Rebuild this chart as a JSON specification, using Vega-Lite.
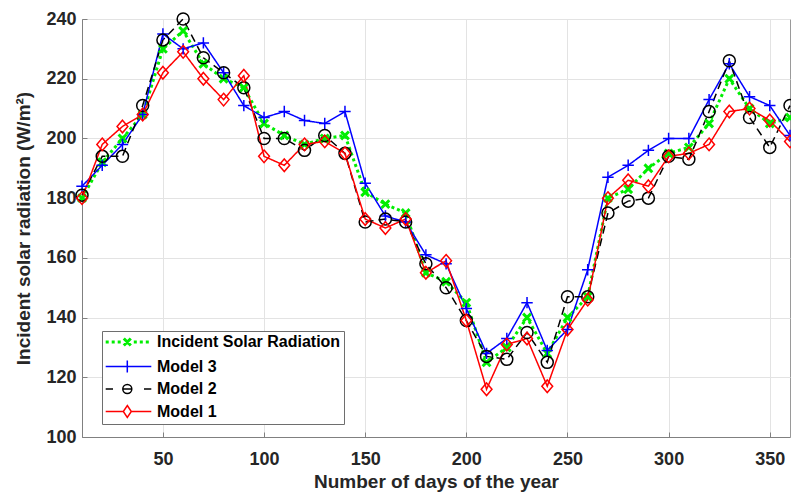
{
  "$schema": "https://vega.github.io/schema/vega-lite/v6.json",
  "width": 708,
  "height": 418,
  "autosize": {"type": "none"},
  "padding": {"left": 82, "top": 19, "right": 1, "bottom": 56},
  "background": "white",
  "config": {
    "view": {"stroke": "#9a9a9a", "strokeWidth": 1},
    "font": "Liberation Sans",
    "axis": {
      "labelFont": "Liberation Sans", "labelFontWeight": "bold", "labelFontSize": 18, "labelColor": "#262626",
      "titleFont": "Liberation Sans", "titleFontWeight": "bold", "titleFontSize": 19, "titleColor": "#262626",
      "gridColor": "#e3e3e3", "gridWidth": 1, "domainColor": "#808080", "tickColor": "#808080", "tickSize": -5
    }
  },
  "data": {"values": [
    {"day":10,"series":"Incident Solar Radiation","value":180},{"day":20,"series":"Incident Solar Radiation","value":192},{"day":30,"series":"Incident Solar Radiation","value":200},{"day":40,"series":"Incident Solar Radiation","value":208},{"day":50,"series":"Incident Solar Radiation","value":230},{"day":60,"series":"Incident Solar Radiation","value":236},{"day":70,"series":"Incident Solar Radiation","value":225},{"day":80,"series":"Incident Solar Radiation","value":220},{"day":90,"series":"Incident Solar Radiation","value":217},{"day":100,"series":"Incident Solar Radiation","value":205},{"day":110,"series":"Incident Solar Radiation","value":201},{"day":120,"series":"Incident Solar Radiation","value":198},{"day":130,"series":"Incident Solar Radiation","value":200},{"day":140,"series":"Incident Solar Radiation","value":201},{"day":150,"series":"Incident Solar Radiation","value":182},{"day":160,"series":"Incident Solar Radiation","value":178},{"day":170,"series":"Incident Solar Radiation","value":175},{"day":180,"series":"Incident Solar Radiation","value":155},{"day":190,"series":"Incident Solar Radiation","value":152},{"day":200,"series":"Incident Solar Radiation","value":145},{"day":210,"series":"Incident Solar Radiation","value":125},{"day":220,"series":"Incident Solar Radiation","value":130},{"day":230,"series":"Incident Solar Radiation","value":140},{"day":240,"series":"Incident Solar Radiation","value":128},{"day":250,"series":"Incident Solar Radiation","value":140},{"day":260,"series":"Incident Solar Radiation","value":147},{"day":270,"series":"Incident Solar Radiation","value":180},{"day":280,"series":"Incident Solar Radiation","value":183},{"day":290,"series":"Incident Solar Radiation","value":190},{"day":300,"series":"Incident Solar Radiation","value":195},{"day":310,"series":"Incident Solar Radiation","value":197},{"day":320,"series":"Incident Solar Radiation","value":205},{"day":330,"series":"Incident Solar Radiation","value":220},{"day":340,"series":"Incident Solar Radiation","value":210},{"day":350,"series":"Incident Solar Radiation","value":205},{"day":360,"series":"Incident Solar Radiation","value":207},
    {"day":10,"series":"Model 3","value":184},{"day":20,"series":"Model 3","value":191},{"day":30,"series":"Model 3","value":198},{"day":40,"series":"Model 3","value":208},{"day":50,"series":"Model 3","value":235},{"day":60,"series":"Model 3","value":230},{"day":70,"series":"Model 3","value":232},{"day":80,"series":"Model 3","value":222},{"day":90,"series":"Model 3","value":211},{"day":100,"series":"Model 3","value":207},{"day":110,"series":"Model 3","value":209},{"day":120,"series":"Model 3","value":206},{"day":130,"series":"Model 3","value":205},{"day":140,"series":"Model 3","value":209},{"day":150,"series":"Model 3","value":185},{"day":160,"series":"Model 3","value":174},{"day":170,"series":"Model 3","value":172},{"day":180,"series":"Model 3","value":161},{"day":190,"series":"Model 3","value":158},{"day":200,"series":"Model 3","value":143},{"day":210,"series":"Model 3","value":128},{"day":220,"series":"Model 3","value":133},{"day":230,"series":"Model 3","value":145},{"day":240,"series":"Model 3","value":129},{"day":250,"series":"Model 3","value":136},{"day":260,"series":"Model 3","value":156},{"day":270,"series":"Model 3","value":187},{"day":280,"series":"Model 3","value":191},{"day":290,"series":"Model 3","value":196},{"day":300,"series":"Model 3","value":200},{"day":310,"series":"Model 3","value":200},{"day":320,"series":"Model 3","value":213},{"day":330,"series":"Model 3","value":225},{"day":340,"series":"Model 3","value":214},{"day":350,"series":"Model 3","value":211},{"day":360,"series":"Model 3","value":201},
    {"day":10,"series":"Model 2","value":181},{"day":20,"series":"Model 2","value":194},{"day":30,"series":"Model 2","value":194},{"day":40,"series":"Model 2","value":211},{"day":50,"series":"Model 2","value":233},{"day":60,"series":"Model 2","value":240},{"day":70,"series":"Model 2","value":227},{"day":80,"series":"Model 2","value":222},{"day":90,"series":"Model 2","value":217},{"day":100,"series":"Model 2","value":200},{"day":110,"series":"Model 2","value":200},{"day":120,"series":"Model 2","value":196},{"day":130,"series":"Model 2","value":201},{"day":140,"series":"Model 2","value":195},{"day":150,"series":"Model 2","value":172},{"day":160,"series":"Model 2","value":173},{"day":170,"series":"Model 2","value":172},{"day":180,"series":"Model 2","value":158},{"day":190,"series":"Model 2","value":150},{"day":200,"series":"Model 2","value":139},{"day":210,"series":"Model 2","value":127},{"day":220,"series":"Model 2","value":126},{"day":230,"series":"Model 2","value":135},{"day":240,"series":"Model 2","value":125},{"day":250,"series":"Model 2","value":147},{"day":260,"series":"Model 2","value":147},{"day":270,"series":"Model 2","value":175},{"day":280,"series":"Model 2","value":179},{"day":290,"series":"Model 2","value":180},{"day":300,"series":"Model 2","value":194},{"day":310,"series":"Model 2","value":193},{"day":320,"series":"Model 2","value":209},{"day":330,"series":"Model 2","value":226},{"day":340,"series":"Model 2","value":207},{"day":350,"series":"Model 2","value":197},{"day":360,"series":"Model 2","value":211},
    {"day":10,"series":"Model 1","value":180},{"day":20,"series":"Model 1","value":198},{"day":30,"series":"Model 1","value":204},{"day":40,"series":"Model 1","value":208},{"day":50,"series":"Model 1","value":222},{"day":60,"series":"Model 1","value":229},{"day":70,"series":"Model 1","value":220},{"day":80,"series":"Model 1","value":213},{"day":90,"series":"Model 1","value":221},{"day":100,"series":"Model 1","value":194},{"day":110,"series":"Model 1","value":191},{"day":120,"series":"Model 1","value":198},{"day":130,"series":"Model 1","value":199},{"day":140,"series":"Model 1","value":195},{"day":150,"series":"Model 1","value":173},{"day":160,"series":"Model 1","value":170},{"day":170,"series":"Model 1","value":173},{"day":180,"series":"Model 1","value":155},{"day":190,"series":"Model 1","value":159},{"day":200,"series":"Model 1","value":139},{"day":210,"series":"Model 1","value":116},{"day":220,"series":"Model 1","value":131},{"day":230,"series":"Model 1","value":133},{"day":240,"series":"Model 1","value":117},{"day":250,"series":"Model 1","value":136},{"day":260,"series":"Model 1","value":146},{"day":270,"series":"Model 1","value":180},{"day":280,"series":"Model 1","value":186},{"day":290,"series":"Model 1","value":184},{"day":300,"series":"Model 1","value":194},{"day":310,"series":"Model 1","value":195},{"day":320,"series":"Model 1","value":198},{"day":330,"series":"Model 1","value":209},{"day":340,"series":"Model 1","value":210},{"day":350,"series":"Model 1","value":206},{"day":360,"series":"Model 1","value":199}
  ]},
  "encoding": {
    "x": {"field": "day", "type": "quantitative",
      "scale": {"domain": [10, 360], "nice": false, "zero": false},
      "axis": {"values": [50, 100, 150, 200, 250, 300, 350], "title": "Number of days of the year", "labelPadding": 18, "titlePadding": 4, "grid": true}},
    "y": {"field": "value", "type": "quantitative",
      "scale": {"domain": [100, 240], "nice": false, "zero": false},
      "axis": {"values": [100, 120, 140, 160, 180, 200, 220, 240], "title": "Incident solar radiation (W/m²)", "labelPadding": 11, "titlePadding": 12, "grid": true}},
    "color": {"field": "series", "type": "nominal",
      "scale": {"domain": ["Incident Solar Radiation", "Model 3", "Model 2", "Model 1"], "range": ["#00ee00", "#0000ff", "#000000", "#ff0000"]},
      "legend": {
        "title": null, "orient": "none", "legendX": 20, "legendY": 312,
        "fillColor": "white", "strokeColor": "#6e6e6e", "padding": 3, "cornerRadius": 0,
        "labelFont": "Liberation Sans", "labelFontWeight": "bold", "labelFontSize": 16, "labelColor": "#000000",
        "labelOffset": 36, "labelLimit": 400, "rowPadding": 5.5, "symbolSize": 100, "symbolStrokeWidth": 1.5, "symbolFillColor": "transparent",
        "encode": {"symbols": {"update": {
          "shape": {"signal": "datum.value === 'Incident Solar Radiation' ? 'M-1.46,0L-0.86,0M-0.26,0L0.34,0M0.94,0L1.54,0M2.16,-0.7L3.56,0.7M2.16,0.7L3.56,-0.7M4.16,0L4.76,0M5.36,0L5.96,0M6.56,0L7.16,0' : datum.value === 'Model 3' ? 'M-1.46,0L7.66,0M2.86,-1.2L2.86,1.2' : datum.value === 'Model 2' ? 'M-1.46,0L0,0M6.2,0L7.66,0M1.96,0L3.76,0M3.76,0C3.76,0.497,3.357,0.9,2.86,0.9C2.363,0.9,1.96,0.497,1.96,0C1.96,-0.497,2.363,-0.9,2.86,-0.9C3.357,-0.9,3.76,-0.497,3.76,0Z' : 'M-1.46,0L2.06,0M3.66,0L7.66,0M2.86,-1.2L3.66,0L2.86,1.2L2.06,0Z'"},
          "strokeDash": {"value": []},
          "fill": {"value": "transparent"},
          "stroke": {"scale": "color", "field": "value"},
          "strokeWidth": {"signal": "datum.value === 'Incident Solar Radiation' ? 3 : 1.5"}
        }}}
      }}
  },
  "layer": [
    {
      "mark": {"type": "line", "clip": false},
      "encoding": {
        "strokeDash": {"condition": [{"test": "datum.series === 'Incident Solar Radiation'", "value": [3, 3]}, {"test": "datum.series === 'Model 2'", "value": [8, 5]}], "value": [1, 0]},
        "strokeWidth": {"condition": {"test": "datum.series === 'Incident Solar Radiation'", "value": 3}, "value": 1.5}
      }
    },
    {
      "mark": {"type": "point", "filled": false, "clip": false, "opacity": 1, "size": 144},
      "encoding": {
        "shape": {"condition": [
          {"test": "datum.series === 'Incident Solar Radiation'", "value": "M-0.65,-0.65L0.65,0.65M-0.65,0.65L0.65,-0.65"},
          {"test": "datum.series === 'Model 3'", "value": "M-0.95,0L0.95,0M0,-0.95L0,0.95"},
          {"test": "datum.series === 'Model 2'", "value": "circle"}
        ], "value": "M0,-1.05L0.9,0L0,1.05L-0.9,0Z"},
        "strokeWidth": {"condition": {"test": "datum.series === 'Incident Solar Radiation'", "value": 3}, "value": 1.5}
      }
    }
  ]
}
